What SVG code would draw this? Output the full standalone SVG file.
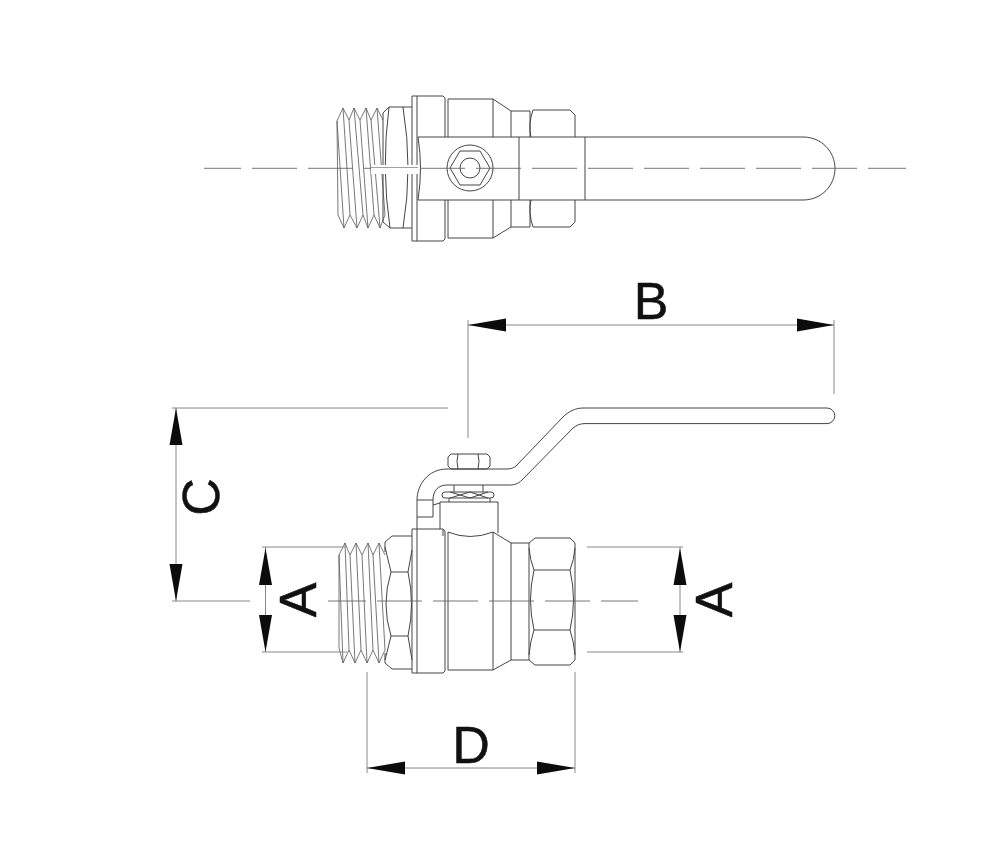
<svg xmlns="http://www.w3.org/2000/svg" width="1000" height="849" viewBox="0 0 1000 849">
<style>
.l{fill:none;stroke:#444;stroke-width:1}
.t{fill:none;stroke:#555;stroke-width:.8}
.d{fill:none;stroke:#888;stroke-width:1}
.c{fill:none;stroke:#666;stroke-width:.9;stroke-dasharray:45 11}
.a{fill:#0c0c0c;stroke:none}
text{font-family:"Liberation Sans",Arial,sans-serif;font-size:52px;fill:#111;stroke:#111;stroke-width:.5;text-anchor:middle}
</style>
<rect width="1000" height="849" fill="#fff"/>
<g id="top-view">
<path class="t" d="M337 121L343 108L349 120L354 108L360 120L366 108L371 120L377 108L383 120M338 215L344 228L350 215L357 228L363 215L368 228L374 215L380 228L385 215M337 121L338 215M337 121L344 228M343 108L350 215M349 120L357 228M354 108L363 215M360 120L368 228M366 108L374 215M371 120L380 228M377 108L385 215"/>
<path class="l" d="M383 113L389 107H412M383 222L390 228H412M383 113V222M389 107Q381 168 390 228M403 107Q413 168 403 228"/>
<path class="l" d="M412 96V241M417 96V241M412 96H443L445 98V137M412 241H443L445 239V200M448 99V137M448 200V238M448 99H493L511 111V137M448 238H493L511 227V200M493 99V137M493 200V238M511 111H530M511 227H530M530 111V137M530 200V227M533 110H570L575 115V137M533 227H570L575 222V200M533 110Q528 124 531 137M533 227Q528 212 531 200"/>
<path class="l" d="M418 137H803C822 137 835 152 835 168.500C835 185 822 200 803 200H418Q423 168 418 137M519 137V200M585 137V200"/>
<circle class="l" cx="470" cy="168" r="23"/>
<path class="l" d="M490 168L480 185H460L450 168L460 151H480Z"/>
<circle class="l" cx="470" cy="168" r="10"/>
</g>
<g id="side-view">
<path class="t" d="M339 555L345 543L350 555L356 543L362 555L368 543L373 555L379 543L385 555M339 648L343 663L349 650L355 663L361 650L367 663L373 650L379 663L385 650M339 555V648M339 555L343 663M345 543L349 650M350 555L355 663M356 543L361 650M362 555L367 663M368 543L373 650M373 555L379 663M379 543L385 650"/>
<path class="l" d="M385 542L392 536H412M385 663L392 669H412M385 542V552M385 653V663M391 572H408M391 636H408M385 547L391 572Q381 604 391 636L385 660M412 550L408 572Q415 604 408 636L412 660"/>
<path class="l" d="M412 529H443L445 531V671L443 673H412ZM417 529V673M448 532V670"/>
<path class="l" d="M448 532Q470 541 493 532L511 543V660L493 670H448M493 532V670M511 543H529M511 660H529"/>
<path class="l" d="M529 543L535 538H570L575 543V660L570 665H535L529 660ZM534 570H570M534 630H570M529 548Q530 560 534 570Q527 600 534 630Q530 642 529 655M575 548Q574 560 570 570Q577 600 570 630Q574 642 575 655"/>
<path class="l" d="M417 529V500C417 485 428 469 447 469H507C511 469 514 468 517 465L563 417C568 412 575 408 583 408H827A7.800 7.800 0 0 1 827 423.600H585C580 423.600 577 425 573 428L522 480C518 484 514 485 510 485H447C438 485 433 491 433 500V517"/>
<path class="l" d="M417 500H433M417 517H433M433 505L440 503"/>
<path class="l" d="M451 454H487L490 457V466L487 469H451L448 466V457ZM458 454Q456 461 458 469M478 454Q480 461 478 469"/>
<path class="l" d="M454 485V492M483 485V492M449 498V502M490 498V502"/>
<rect class="l" x="442" y="492" width="52" height="6" rx="3"/>
<path class="l" d="M450 492L470 498L488 492M450 498L470 492L488 498"/>
<path class="l" d="M440 529V502H498V533M443 529V536"/>
</g>
<g id="connectors">
<path class="d" d="M468 320V438M834 320V394M172 408H448M172 601H250M262 547H345M262 652H347M587 547H683M587 652H683M367 672V773M575 672V773"/>
<path class="d" d="M468 325H834M176 408V601M265.500 547V652M680 547V652M367 768H575"/>
<path class="c" d="M204 168.300H906" stroke-dashoffset="8"/>
<path class="c" d="M328 601H638" stroke-dashoffset="7"/>
<rect x="371" y="165" width="47" height="9" fill="#fff"/>
<path d="M371 167.500H418" stroke="#888" stroke-width=".8"/>
<path class="a" d="M468 325L506 318.500V331.500ZM834 325L797 318.400V331.600ZM176 408L169.500 445H182.500ZM176 601L169.500 564H182.500ZM265.500 548L259 585H272ZM265.500 652L259 615H272ZM680 548L673.500 585H686.500ZM680 652L673.500 615H686.500ZM367 768L405 761.500V774.500ZM575 768L537 761.500V774.500Z"/>
</g>
<g id="labels">
<text x="651" y="319">B</text>
<text x="471" y="763">D</text>
<text transform="translate(218.500 497) rotate(-90)">C</text>
<text transform="translate(316 600) rotate(-90)">A</text>
<text transform="translate(732 600) rotate(-90)">A</text>
</g>
</svg>
